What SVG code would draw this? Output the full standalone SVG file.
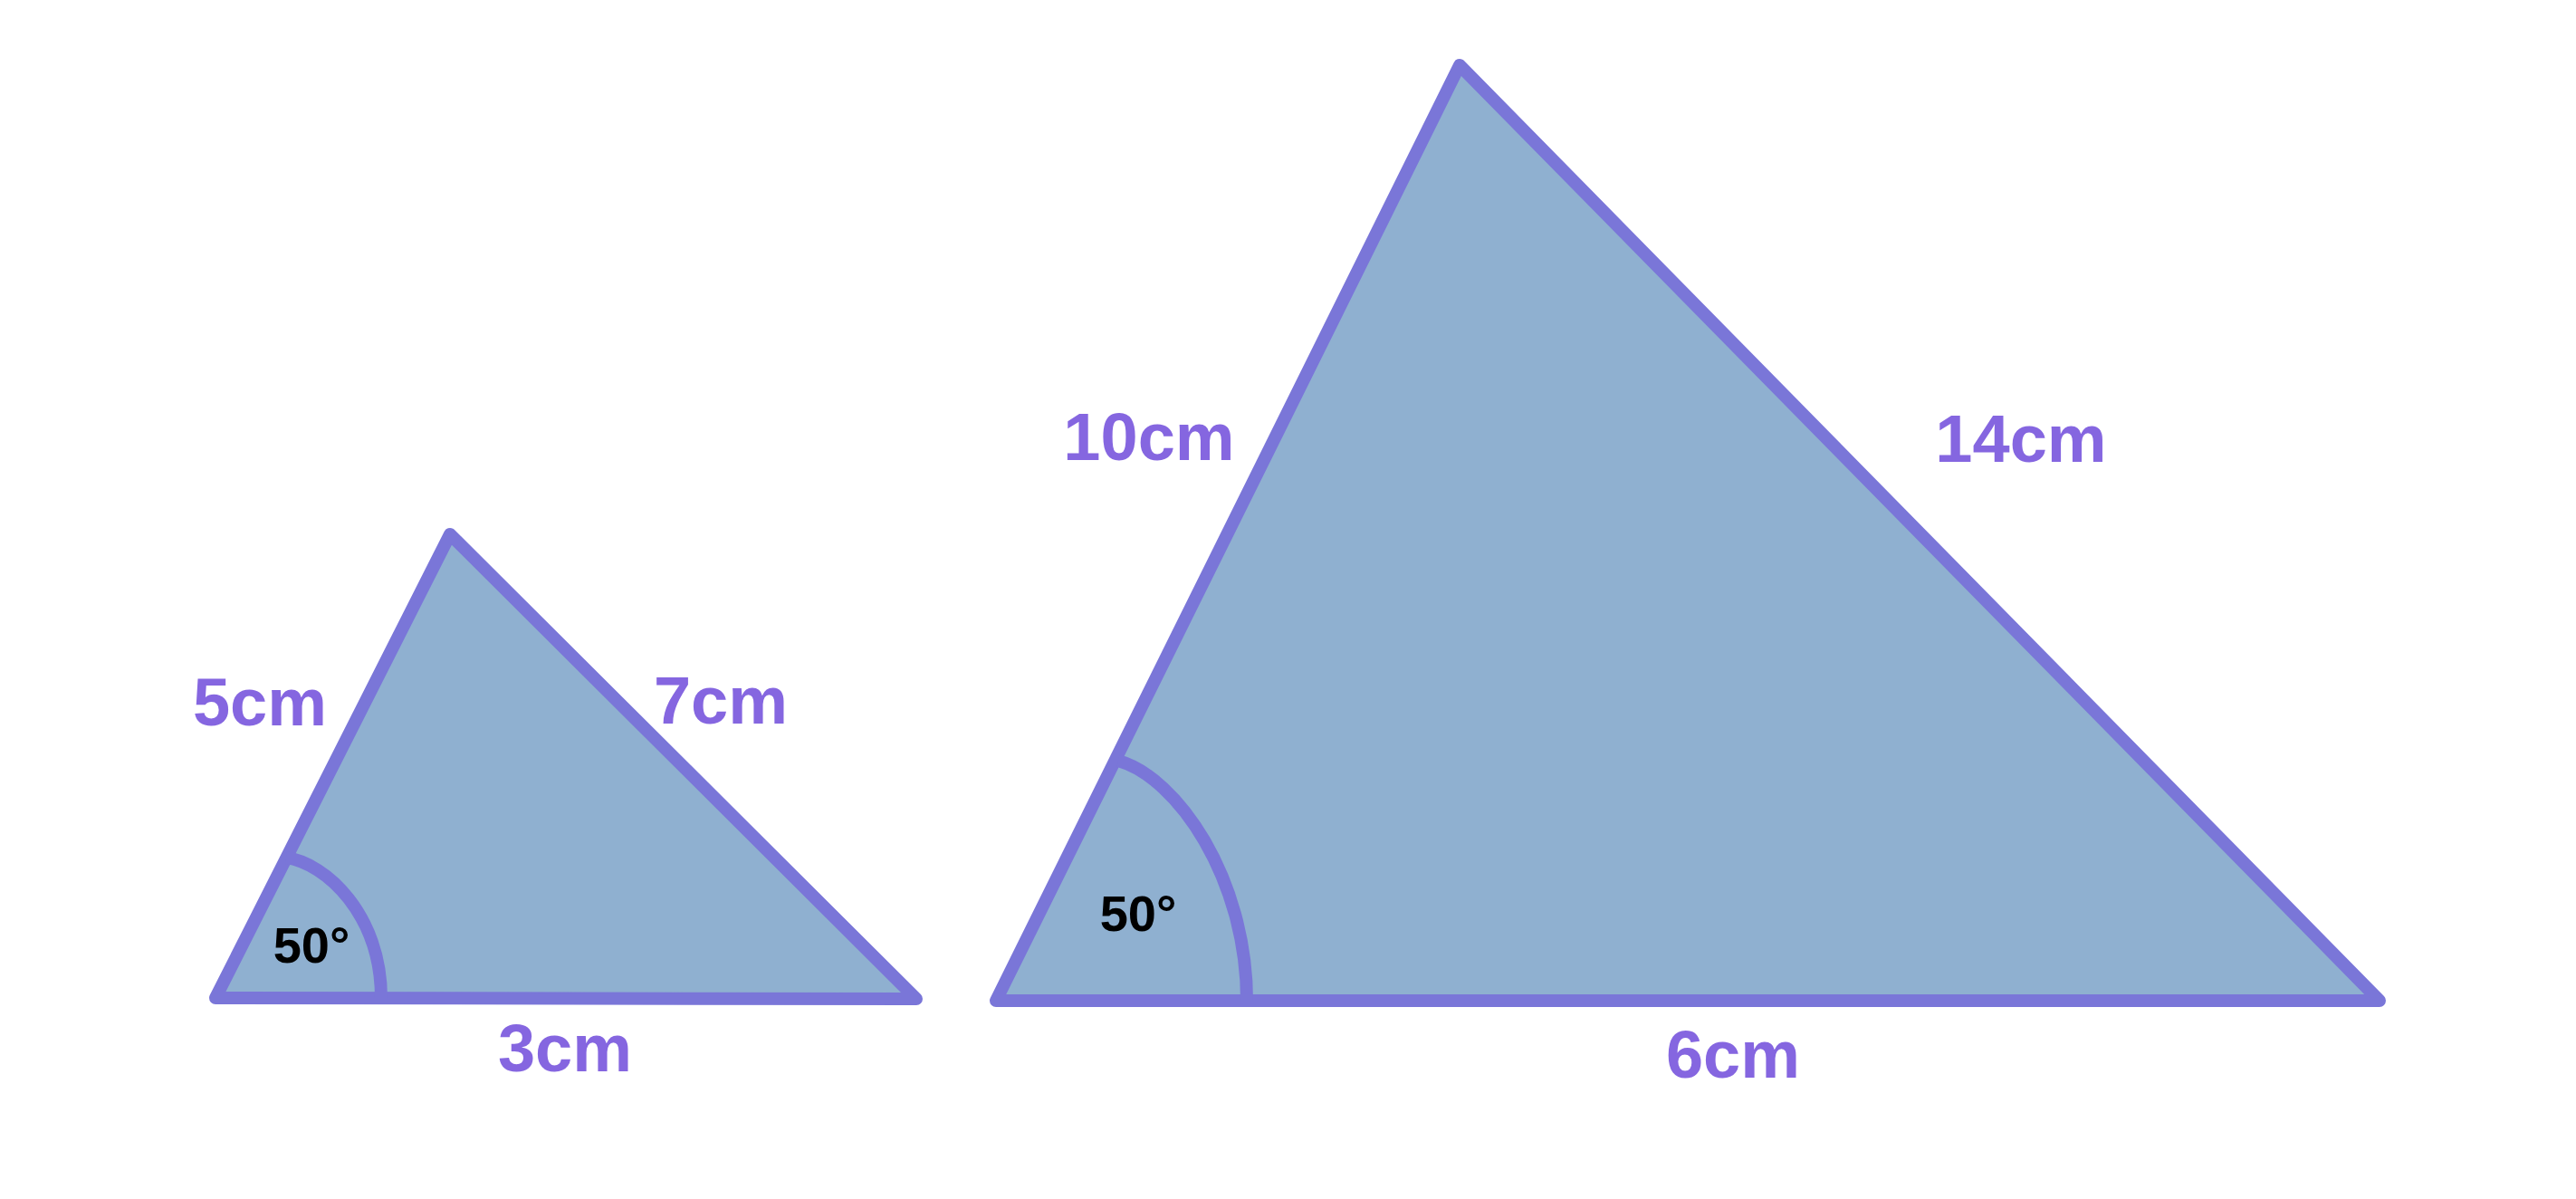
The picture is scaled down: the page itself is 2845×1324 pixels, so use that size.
<svg xmlns="http://www.w3.org/2000/svg" width="2845" height="1324" viewBox="0 0 2845 1324">
<style>
.tri{fill:#8FB0D0;stroke:#7A76D8;stroke-width:14;stroke-linejoin:round;stroke-linecap:round}
.arc{fill:none;stroke:#7A76D8;stroke-width:14;stroke-linecap:butt}
.lbl{font-family:"Liberation Sans",Arial,sans-serif;font-weight:bold;font-size:74px;fill:#8566E0;text-anchor:middle}
.ang{font-family:"Liberation Sans",Arial,sans-serif;font-weight:bold;font-size:56px;fill:#000000;text-anchor:middle}
</style>
<rect width="2845" height="1324" fill="#FFFFFF"/>
<g id="small-triangle">
<polygon class="tri" points="238,1102 497,590 1012,1103"/>
<path class="arc" d="M316,947 C360,953 421,1010 421,1102"/>
<text class="ang" x="344" y="1063">50°</text>
<text class="lbl" x="287" y="801">5cm</text>
<text class="lbl" x="796" y="799">7cm</text>
<text class="lbl" x="624" y="1183">3cm</text>
</g>
<g id="large-triangle">
<polygon class="tri" points="1100,1105 1612,72 2628,1105"/>
<path class="arc" d="M1235,840 C1300,858 1377,970 1377,1105"/>
<text class="ang" x="1257" y="1028">50°</text>
<text class="lbl" x="1269" y="508">10cm</text>
<text class="lbl" x="2232" y="510">14cm</text>
<text class="lbl" x="1914" y="1190">6cm</text>
</g>
<g id="connectors"/>
</svg>
